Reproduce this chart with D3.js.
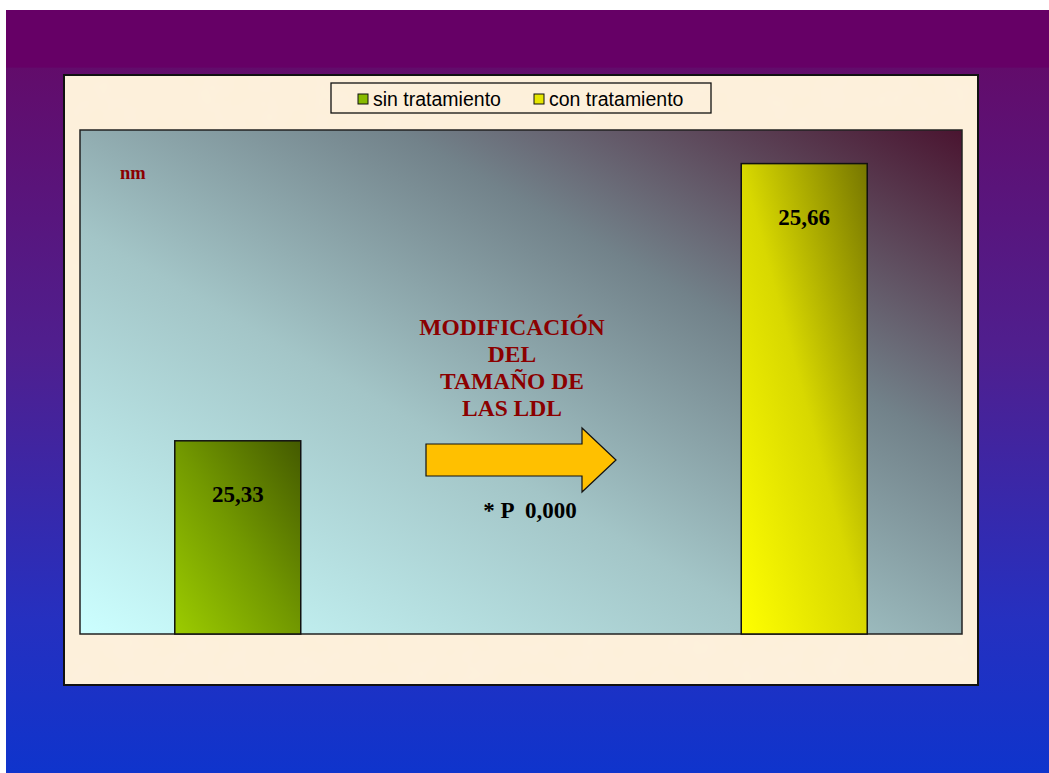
<!DOCTYPE html>
<html><head><meta charset="utf-8">
<script src="https://cdn.jsdelivr.net/npm/d3@7"></script>
<style>html,body{margin:0;padding:0;background:#fff;}svg{display:block;}</style>
</head><body>
<svg id="chart" width="1049" height="773"></svg>
<script>
const categories = ["sin tratamiento", "con tratamiento"];
const values = [25.33, 25.66];
const valueLabels = ["25,33", "25,66"];
const yDomain = [25.1, 25.7];
const unitLabel = "nm";
const annotationLines = ["MODIFICACIÓN", "DEL", "TAMAÑO DE", "LAS LDL"];
const pLabel = "* P  0,000";

const svg = d3.select("#chart");
const defs = svg.append("defs");

// slide background
const bg = defs.append("linearGradient").attr("id","slideBg").attr("x1",0).attr("y1",0).attr("x2",0).attr("y2",1);
[[0,"#660066"],[0.075,"#660066"],[0.076,"#620c6b"],[0.45,"#4f1f8f"],[0.8,"#2530c0"],[1,"#0f34cc"]].forEach(s=>bg.append("stop").attr("offset",s[0]).attr("stop-color",s[1]));
svg.append("rect").attr("x",6).attr("y",10).attr("width",1043).attr("height",763).attr("fill","url(#slideBg)");

// plot gradient
const pg = defs.append("linearGradient").attr("id","plotBg").attr("x1",0).attr("y1",1).attr("x2",1).attr("y2",0);
[[0,"#ccffff"],[0.4,"#a3c5c7"],[0.68,"#72828a"],[1,"#4a1430"]].forEach(s=>pg.append("stop").attr("offset",s[0]).attr("stop-color",s[1]));

const barGrads = [["#9ccc00","#729800","#445a00"],["#ffff00","#d8d800","#767600"]];
barGrads.forEach((g,i)=>{
  const lg = defs.append("linearGradient").attr("id","bar"+i).attr("x1",0).attr("y1",1).attr("x2",1).attr("y2",0);
  lg.append("stop").attr("offset",0).attr("stop-color",g[0]);
  lg.append("stop").attr("offset",0.5).attr("stop-color",g[1]);
  lg.append("stop").attr("offset",1).attr("stop-color",g[2]);
});
const swatchColors = ["#88bb00","#e6e600"];

// parchment texture
const f = defs.append("filter").attr("id","parch").attr("x",0).attr("y",0).attr("width",1).attr("height",1);
f.append("feTurbulence").attr("type","fractalNoise").attr("baseFrequency",0.035).attr("numOctaves",3).attr("seed",4).attr("result","n");
f.append("feColorMatrix").attr("in","n").attr("type","matrix")
  .attr("values","0 0 0 0 0.99  0 0 0 0 0.90  0 0 0 0 0.78  0 0 0 0.35 -0.08").attr("result","c");
f.append("feComposite").attr("in","c").attr("in2","SourceGraphic").attr("operator","over");

// chart area
svg.append("rect").attr("x",64).attr("y",75).attr("width",914).attr("height",610)
  .attr("fill","#fdf0da").attr("filter","url(#parch)");
svg.append("rect").attr("x",64).attr("y",75).attr("width",914).attr("height",610)
  .attr("fill","none").attr("stroke","#111").attr("stroke-width",2);

const plot = {x0:80, x1:962, y0:130, y1:634};
svg.append("rect").attr("x",plot.x0).attr("y",plot.y0).attr("width",plot.x1-plot.x0).attr("height",plot.y1-plot.y0)
  .attr("fill","url(#plotBg)").attr("stroke","#222").attr("stroke-width",1.5);

const x = d3.scaleBand().domain(categories).range([plot.x0, plot.x1]).paddingInner(0.7776).paddingOuter(0.1673);
const y = d3.scaleLinear().domain(yDomain).range([plot.y1, plot.y0]);

svg.selectAll("rect.bar").data(categories).join("rect").attr("class","bar")
  .attr("x",d=>x(d)).attr("width",x.bandwidth())
  .attr("y",(d,i)=>y(values[i])).attr("height",(d,i)=>plot.y1-y(values[i]))
  .attr("fill",(d,i)=>`url(#bar${i})`).attr("stroke","#111").attr("stroke-width",1.5);

svg.selectAll("text.val").data(categories).join("text").attr("class","val")
  .attr("x",d=>x(d)+x.bandwidth()/2).attr("y",(d,i)=>y(values[i])+61)
  .attr("text-anchor","middle").attr("font-family","Liberation Serif, Times New Roman, serif")
  .attr("font-weight","bold").attr("font-size",23).attr("fill","#000")
  .text((d,i)=>valueLabels[i]);

svg.append("text").attr("x",120).attr("y",179).attr("font-family","Liberation Serif, serif")
  .attr("font-weight","bold").attr("font-size",18.5).attr("fill","#8b0000").text(unitLabel);

svg.append("g").selectAll("text").data(annotationLines).join("text")
  .attr("x",512).attr("y",(d,i)=>335+i*27).attr("text-anchor","middle")
  .attr("font-family","Liberation Serif, serif").attr("font-weight","bold").attr("font-size",23.5)
  .attr("fill","#8b0000").text(d=>d);

// arrow
const arrowPts = [[426,444],[582,444],[582,428],[616,460],[582,492],[582,476],[426,476]];
svg.append("path").attr("d",d3.line()(arrowPts)+"Z").attr("fill","#ffc000").attr("stroke","#111").attr("stroke-width",1.2);

svg.append("text").attr("x",530).attr("y",518).attr("text-anchor","middle")
  .attr("font-family","Liberation Serif, serif").attr("font-weight","bold").attr("font-size",23)
  .attr("fill","#000").attr("xml:space","preserve").style("white-space","pre").text(pLabel);

// legend
svg.append("rect").attr("x",331).attr("y",83).attr("width",380).attr("height",30)
  .attr("fill","none").attr("stroke","#111").attr("stroke-width",1.3);
const legX = [358, 534];
const lg = svg.append("g").selectAll("g").data(categories).join("g").attr("transform",(d,i)=>`translate(${legX[i]},0)`);
lg.append("rect").attr("x",0).attr("y",94).attr("width",10).attr("height",10)
  .attr("fill",(d,i)=>swatchColors[i]).attr("stroke","#111").attr("stroke-width",1);
lg.append("text").attr("x",15).attr("y",105.5).attr("font-family","Liberation Sans, Arial, sans-serif")
  .attr("font-size",19.5).attr("fill","#000").text(d=>d);
</script>
</body></html>
